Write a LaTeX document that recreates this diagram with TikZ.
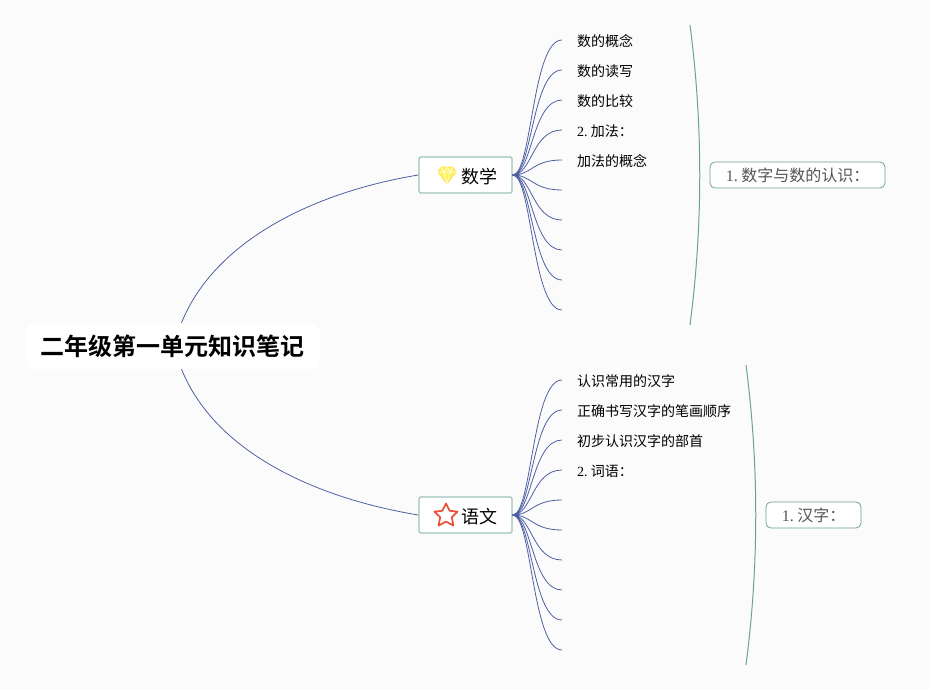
\documentclass[tikz,border=0pt]{standalone}
\usepackage{fontspec}
\newfontfamily\cjk{Noto Sans CJK SC}
\newfontfamily\cjkb{Noto Sans CJK SC Bold}
\newfontfamily\lat{Liberation Serif}
\definecolor{bgc}{HTML}{FBFBFC}
\definecolor{linkc}{HTML}{4F60A2}
\definecolor{brk}{HTML}{6BA392}
\definecolor{boxc}{HTML}{9CC4B8}
\definecolor{graytxt}{HTML}{555555}
\definecolor{gemc}{HTML}{FFF25A}
\definecolor{starc}{HTML}{E8503A}
\tikzset{
  rootbox/.style={fill=white,rounded corners=9,minimum width=294,minimum height=46,inner sep=0,font=\fontsize{24}{24}\cjkb,text=black},
  topicbox/.style={draw=boxc,line width=1.3,fill=white,rounded corners=1.5,minimum width=93,minimum height=36,inner sep=0},
  subbox/.style={draw=brk,line width=0.8,fill=white,rounded corners=5,minimum height=26,inner sep=0,text depth=0pt},
  subtxt/.style={inner sep=0,font=\fontsize{16}{16}\cjk,text=graytxt},
  leaf/.style={anchor=west,inner sep=0,font=\fontsize{14}{14}\cjk,text=black},
  link/.style={draw=linkc,line width=0.8},
  bracket/.style={draw=brk,line width=1},
}
\begin{document}
\begin{tikzpicture}[x=1pt,y=-1pt]
\useasboundingbox (0,0) rectangle (930,690);
\fill[bgc] (0,0) rectangle (930,690);
\node[rootbox] (root) at (172.5,346) {二年级第一单元知识笔记};
\node[topicbox] (math) at (465.5,175) {};
\node[topicbox] (lang) at (465.5,515) {};
\node[inner sep=0,font=\fontsize{18}{18}\cjk] (mathtxt) at (479,176.5) {数学};
\node[inner sep=0,font=\fontsize{18}{18}\cjk] (langtxt) at (479,516.5) {语文};
% gem icon
\fill[gemc,draw=gemc!85!orange,line width=0.8,line join=round]
  (441,167) -- (453,167) -- (456,172) -- (447,184) -- (438,172) -- cycle;
\draw[white,line width=0.6] (438,172) -- (456,172) (441,167) -- (444,172) -- (447,184) -- (450,172) -- (453,167) (444,172) -- (447,167) -- (450,172);
% star icon
\draw[draw=starc,line width=1.7,line join=round,fill=white]
  (446,503.5) -- (449.6,510.8) -- (457.6,511.6) -- (451.8,517.2) -- (453.4,525.6) -- (446,521.6) -- (438.6,525.6) -- (440.2,517.2) -- (434.4,511.6) -- (442.4,510.8) -- cycle;
\draw[link] ([xshift=9]root.north) .. controls (215,240) and (315,192) .. (math.west);
\draw[link] ([xshift=9]root.south) .. controls (215,452) and (315,498) .. (lang.west);
\foreach \i in {0,...,9}{
  \coordinate (ma\i) at (562,40+30*\i);
  \coordinate (la\i) at (562,380+30*\i);
  \draw[link] (math.east) .. controls (532,175) and (532,40+30*\i) .. (ma\i);
  \draw[link] (lang.east) .. controls (532,515) and (532,380+30*\i) .. (la\i);
}
\fill[linkc] (512,175) -- (519,172.5) -- (519,177.5) -- cycle;
\fill[linkc] (512,515) -- (519,512.5) -- (519,517.5) -- cycle;
\node[leaf] (m1) at (577,41.5) {数的概念};
\node[leaf] (m2) at (577,71.5) {数的读写};
\node[leaf] (m3) at (577,101.5) {数的比较};
\node[leaf] (m4) at (577,131.5) {{\lat 2.}\hspace{3.2pt}加法：};
\node[leaf] (m5) at (577,161.5) {加法的概念};
\node[leaf] (l1) at (577,381.5) {认识常用的汉字};
\node[leaf] (l2) at (577,411.5) {正确书写汉字的笔画顺序};
\node[leaf] (l3) at (577,441.5) {初步认识汉字的部首};
\node[leaf] (l4) at (577,471.5) {{\lat 2.}\hspace{3.2pt}词语：};
\coordinate (bm1) at (690,25); \coordinate (bm2) at (690,325);
\coordinate (bl1) at (746,365); \coordinate (bl2) at (746,665);
\draw[bracket] (bm1) .. controls (703,125) and (703,225) .. (bm2);
\draw[bracket] (bl1) .. controls (759,465) and (759,565) .. (bl2);
\node[subbox,minimum width=175] (s1) at (797.5,175) {};
\node[subbox,minimum width=95] (s2) at (813.5,515) {};
\node[subtxt] (s1t) at (s1) [yshift=-0.7] {{\lat 1.}\hspace{3.5pt}数字与数的认识：};
\node[subtxt] (s2t) at (s2) [yshift=-0.7] {{\lat 1.}\hspace{3.5pt}汉字：};
\end{tikzpicture}
\end{document}
